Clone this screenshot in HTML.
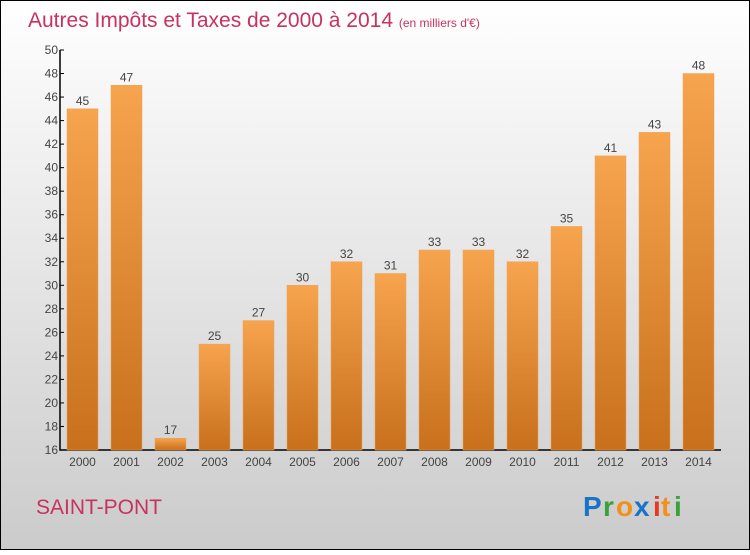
<!DOCTYPE html>
<html><head><meta charset="utf-8"><style>
body{margin:0}
svg text{font-family:"Liberation Sans",sans-serif}
</style></head><body>
<svg id="c" width="750" height="550" xmlns="http://www.w3.org/2000/svg">
<defs>
<linearGradient id="bg" x1="0" y1="0" x2="0" y2="1"><stop offset="0" stop-color="#ffffff"/><stop offset="1" stop-color="#cbcbcb"/></linearGradient>
<linearGradient id="bar" x1="0" y1="0" x2="0" y2="1"><stop offset="0" stop-color="#f7a44e"/><stop offset="1" stop-color="#c8701c"/></linearGradient>
</defs>
<rect x="0.5" y="0.5" width="749" height="549" fill="url(#bg)" stroke="#000"/>
<text x="28" y="27" font-size="21" fill="#c8325f">Autres Impôts et Taxes de 2000 à 2014 <tspan font-size="12">(en milliers d'€)</tspan></text>
<text x="36" y="514" font-size="21" fill="#c8325f">SAINT-PONT</text>
<g font-size="28" font-weight="bold">
<text x="583" y="516" fill="#1a73c9">P</text><text x="603" y="516" fill="#3aa23a">r</text><text x="616" y="516" fill="#f39019">o</text><text x="634" y="516" fill="#1a73c9">x</text><text x="653" y="516" fill="#e53a1e">i</text><text x="661" y="516" fill="#f39019">t</text><text x="674" y="516" fill="#3aa23a">i</text>
</g>
<g id="plot"></g>
</svg>
<script>
const years=["2000","2001","2002","2003","2004","2005","2006","2007","2008","2009","2010","2011","2012","2013","2014"];
const values=[45,47,17,25,27,30,32,31,33,33,32,35,41,43,48];
const ticks=[16,18,20,22,24,26,28,30,32,34,36,38,40,42,44,46,48,50];
const NS="http://www.w3.org/2000/svg";
const g=document.getElementById('plot');
const y0=450,y1=50,vmin=16,vmax=50;
const y=v=>y0-(v-vmin)*(y0-y1)/(vmax-vmin);
const x=i=>67+i*44;
function mk(t,a){const e=document.createElementNS(NS,t);for(const k in a)e.setAttribute(k,a[k]);g.appendChild(e);return e;}
let ax=mk('path',{d:'M60 50V450H721',stroke:'#000',fill:'none','stroke-width':1.5});


ticks.forEach(t=>{
 const l=mk('line',{x1:60,x2:64,y1:y(t),y2:y(t),stroke:'#000'});
 
 
 const tx=mk('text',{x:58,y:y(t)+4,'font-size':12,fill:'#444','text-anchor':'end'});
 tx.textContent=t;
 
 
});
values.forEach((v,i)=>{
 const r=mk('rect',{x:x(i),y:y(v),width:31,height:y0-y(v),fill:'url(#bar)',stroke:'#f0a050','stroke-width':0.5});
 
 
 const vl=mk('text',{x:x(i)+15.5,y:y(v)-4,'font-size':12,fill:'#444','text-anchor':'middle'});
 vl.textContent=v;
 
 
 const xl=mk('text',{x:x(i)+15.5,y:466,'font-size':12,fill:'#444','text-anchor':'middle'});
 xl.textContent=years[i];
 
 
});
</script>
</body></html>
